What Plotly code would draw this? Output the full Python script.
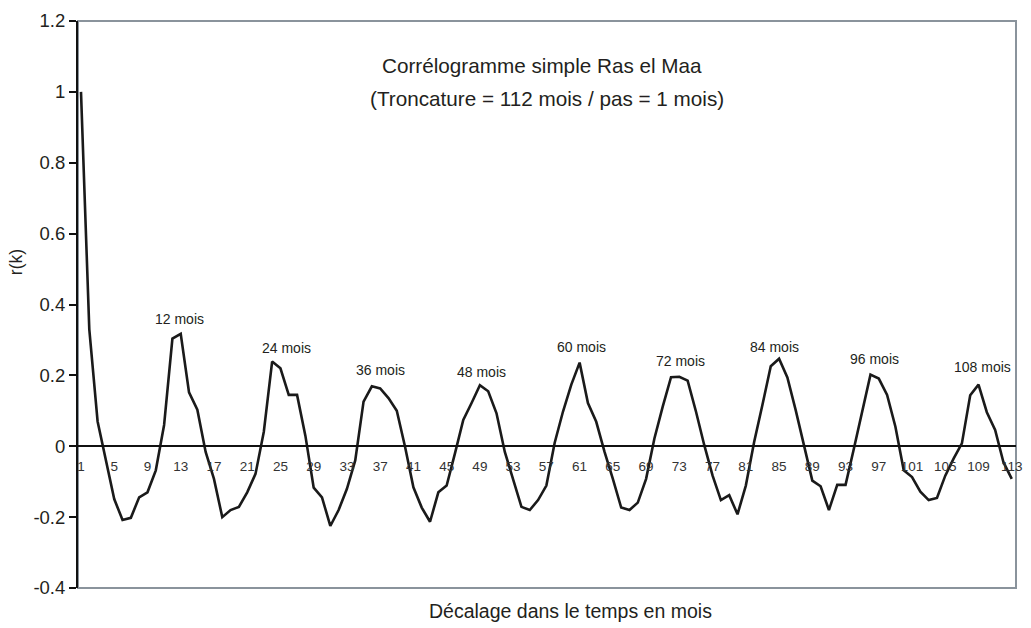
import plotly.graph_objects as go

# Lags (1 = no shift) and simple autocorrelation coefficients r(k)
lags = list(range(1, 114))
r_k = [
    1.0, 0.33, 0.07, -0.04, -0.149, -0.208, -0.202, -0.144, -0.130, -0.068,
    0.06, 0.304, 0.317, 0.152, 0.103, -0.016, -0.092, -0.20, -0.18, -0.171,
    -0.13, -0.078, 0.041, 0.239, 0.22, 0.145, 0.145, 0.03, -0.117, -0.144,
    -0.225, -0.18, -0.12, -0.04, 0.126, 0.169, 0.163, 0.136, 0.10, -0.002,
    -0.116, -0.173, -0.213, -0.13, -0.111, -0.02, 0.074, 0.122, 0.172, 0.155,
    0.093, -0.016, -0.092, -0.171, -0.18, -0.152, -0.111, 0.01, 0.098, 0.174,
    0.236, 0.122, 0.069, -0.016, -0.092, -0.173, -0.18, -0.159, -0.092, 0.022,
    0.112, 0.195, 0.196, 0.185, 0.098, 0.003, -0.083, -0.152, -0.138, -0.192,
    -0.111, 0.012, 0.117, 0.226, 0.247, 0.194, 0.102, 0.003, -0.097, -0.113,
    -0.18, -0.109, -0.109, -0.007, 0.098, 0.202, 0.191, 0.145, 0.055, -0.068,
    -0.087, -0.128, -0.152, -0.146, -0.083, -0.035, 0.008, 0.144, 0.174, 0.096,
    0.046, -0.045, -0.092,
]

x_tick_vals = list(range(1, 114, 4))
x_tick_text = [str(v) for v in x_tick_vals]
y_tick_vals = [-0.4, -0.2, 0, 0.2, 0.4, 0.6, 0.8, 1.0, 1.2]
y_tick_text = ["-0.4", "-0.2", "0", "0.2", "0.4", "0.6", "0.8", "1", "1.2"]

# Seasonal peak labels and where they sit (lag, r)
peak_labels = ["12 mois", "24 mois", "36 mois", "48 mois", "60 mois",
               "72 mois", "84 mois", "96 mois", "108 mois"]
peak_label_x = [12.84, 25.68, 37.04, 49.24, 61.2, 73.17, 84.5, 96.45, 109.5]
peak_label_y = [0.359, 0.277, 0.214, 0.210, 0.279, 0.240, 0.281, 0.246, 0.223]

title_lines = ["Corrélogramme simple Ras el Maa",
               "(Troncature = 112 mois / pas = 1 mois)"]
x_title = "Décalage dans le temps en mois"
y_title = "r(k)"

FONT = "Liberation Sans, Arial, sans-serif"
TXT = "#231f20"

# plot-area geometry in pixels, used to place free text
L, R, T, B = 78, 1022, 21, 588.5


def dom_x(px):
    return (px - L) / (R - L)


def dom_y(py):
    return 1 - (py - T) / (B - T)


fig = go.Figure()
fig.add_trace(go.Scatter(
    x=lags, y=r_k, mode="lines",
    line=dict(color="#1a1a1a", width=2.6),
    hoverinfo="x+y", showlegend=False,
))

annotations = []
for txt, ax, ay in zip(peak_labels, peak_label_x, peak_label_y):
    annotations.append(dict(x=ax, y=ay, xref="x", yref="y", text=txt,
                            xanchor="center", yanchor="middle", showarrow=False,
                            font=dict(family=FONT, size=14, color=TXT)))


def free_text(text, px, py, size, angle=0):
    return dict(x=dom_x(px), y=dom_y(py), xref="x domain", yref="y domain",
                text=text, showarrow=False, xanchor="center", yanchor="middle",
                textangle=angle, font=dict(family=FONT, size=size, color=TXT))


annotations.append(free_text(title_lines[0], 545, 66, 20.7))
annotations.append(free_text(title_lines[1], 549.5, 99, 20.7))
annotations.append(free_text(x_title, 574, 612, 19.5))
annotations.append(free_text(y_title, 15, 262, 17.5, angle=-90))

fig.update_layout(
    width=1031, height=628,
    margin=dict(l=L, r=1031 - R, t=T, b=628 - B),
    paper_bgcolor="white", plot_bgcolor="white",
    font=dict(family=FONT, color=TXT),
    annotations=annotations,
    shapes=[dict(type="rect", xref="paper", yref="paper", x0=0, x1=1, y0=0, y1=1,
                 line=dict(color="#8a939c", width=2), layer="below")],
    xaxis=dict(
        range=[0.64, 113.51], anchor="free", position=0.25,
        showline=True, linecolor="#111111", linewidth=2,
        showgrid=False, zeroline=False, ticks="",
        tickvals=x_tick_vals, ticktext=x_tick_text,
        tickfont=dict(family=FONT, size=13.5, color="#333333"),
        ticklabelstandoff=8,
    ),
    yaxis=dict(
        range=[-0.4, 1.2], showline=True, linecolor="#111111", linewidth=2,
        showgrid=False, zeroline=False, ticks="outside", ticklen=7, tickwidth=1.5,
        tickcolor="#111111",
        tickvals=y_tick_vals, ticktext=y_tick_text,
        tickfont=dict(family=FONT, size=18.5, color=TXT),
    ),
)

fig.write_html("out.html")
